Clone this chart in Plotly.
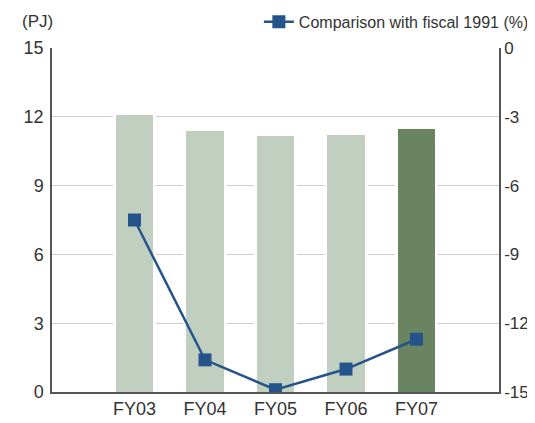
import plotly.graph_objects as go

categories = ["FY03", "FY04", "FY05", "FY06", "FY07"]
energy_pj = [12.1, 11.4, 11.16, 11.22, 11.45]
comparison_pct = [-7.5, -13.6, -14.9, -14.0, -12.7]
bar_colors = ["#c1cfc1", "#c1cfc1", "#c1cfc1", "#c1cfc1", "#6a8360"]
left_ticks = [0, 3, 6, 9, 12, 15]
right_ticks = [-15, -12, -9, -6, -3, 0]
right_tick_text = ["-15", "-12", "-9", "-6", "-3", "0"]

FONT = "Liberation Sans, Arial, sans-serif"

fig = go.Figure()

# white halo behind bars (breaks gridlines like the original)
fig.add_trace(go.Bar(
    x=categories, y=energy_pj, width=0.62,
    marker=dict(color="white", line=dict(width=0)),
    showlegend=False, hoverinfo="skip",
))
fig.add_trace(go.Bar(
    x=categories, y=energy_pj, width=0.53,
    marker=dict(color=bar_colors, line=dict(width=0)),
    showlegend=False, name="PJ",
))
fig.add_trace(go.Scatter(
    x=categories, y=comparison_pct, yaxis="y2",
    mode="lines+markers", name="Comparison with fiscal 1991 (%)",
    line=dict(color="#25548a", width=2.5),
    marker=dict(symbol="square", size=13, color="#25548a"),
))

# page body has an 8px margin, so the figure is 8px smaller and offset
fig.update_layout(
    width=527, height=415,
    margin=dict(l=44, r=36, t=40, b=31, autoexpand=False),
    paper_bgcolor="white", plot_bgcolor="white",
    barmode="overlay", bargap=0,
    font=dict(family=FONT, color="#333333"),
    xaxis=dict(
        type="category", range=[-1.17, 5.17],
        showgrid=False, showline=True, linecolor="#555555", linewidth=1.5,
        ticks="", tickfont=dict(size=18, color="#333333"),
        zeroline=False,
    ),
    yaxis=dict(
        range=[0, 15], tickvals=left_ticks, showgrid=True,
        gridcolor="#cccccc", gridwidth=1,
        showline=True, linecolor="#555555", linewidth=1.5,
        ticks="outside", ticklen=3, tickcolor="white",
        tickfont=dict(size=18, color="#333333"), zeroline=False,
    ),
    yaxis2=dict(
        range=[-15, 0], tickvals=right_ticks, ticktext=right_tick_text,
        overlaying="y", side="right",
        showgrid=False, showline=True, linecolor="#555555", linewidth=1.5,
        ticks="", tickfont=dict(size=17, color="#333333"), zeroline=False,
    ),
    legend=dict(
        orientation="h", x=1.078, xanchor="right", y=1.076, yanchor="middle",
        font=dict(size=16, color="#333333"), bgcolor="rgba(0,0,0,0)",
        itemwidth=30,
    ),
    annotations=[dict(
        text="(PJ)", x=-0.072, xref="paper", y=1.076, yref="paper",
        xanchor="left", yanchor="middle", showarrow=False,
        font=dict(size=17, color="#333333"),
    )],
)

fig.write_html("out.html")
